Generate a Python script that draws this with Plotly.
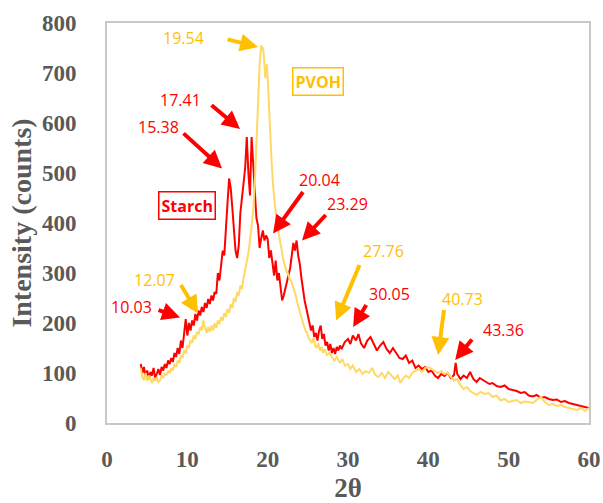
import plotly.graph_objects as go

# ---------------- data ----------------
starch_x = [4.2, 4.4, 4.6, 4.8, 5.0, 5.2, 5.4, 5.6, 5.8, 6.0, 6.2, 6.4, 6.6, 6.8, 7.0, 7.2, 7.4, 7.6, 7.8, 8.0,
            8.2, 8.4, 8.6, 8.8, 9.0, 9.2, 9.4, 9.6, 9.8, 10.0, 10.2, 10.4, 10.6, 10.8, 11.0, 11.2, 11.4, 11.6, 11.8, 12.0,
            12.2, 12.4, 12.6, 12.8, 13.0, 13.2, 13.4, 13.6, 13.8, 14.0, 14.2, 14.4, 14.6, 14.8, 15.0, 15.2, 15.4, 15.6, 15.8, 16.0,
            16.2, 16.4, 16.6, 16.8, 17.0, 17.2, 17.4, 17.6, 17.8, 18.0, 18.2, 18.4, 18.6, 18.8, 19.0, 19.2, 19.4, 19.6, 19.8, 20.0,
            20.2, 20.4, 20.6, 20.8, 21.0, 21.2, 21.4, 21.6, 21.8, 22.0, 22.2, 22.4, 22.6, 22.8, 23.0, 23.2, 23.4, 23.6, 23.8, 24.0,
            24.2, 24.4, 24.6, 24.8, 25.0, 25.2, 25.4, 25.6, 25.8, 26.0, 26.2, 26.4, 26.6, 26.8, 27.0, 27.2, 27.4, 27.6, 27.8, 28.0,
            28.2, 28.4, 28.6, 28.8, 29.0, 29.2, 29.6, 30.0, 30.3, 30.6, 31.0, 31.3, 31.6, 32.0, 32.4, 32.8, 33.2, 33.6, 34.0, 34.4,
            34.8, 35.2, 35.6, 36.0, 36.4, 36.8, 37.2, 37.6, 38.0, 38.4, 38.8, 39.2, 39.6, 40.0, 40.4, 40.8, 41.2, 41.6, 42.0, 42.4,
            42.8, 43.2, 43.4, 43.6, 44.0, 44.4, 44.8, 45.2, 45.6, 46.0, 46.4, 46.8, 47.2, 47.6, 48.0, 48.5, 49.0, 49.5, 50.0, 50.5,
            51.0, 51.5, 52.0, 52.5, 53.0, 53.5, 54.0, 54.5, 55.0, 55.5, 56.0, 56.5, 57.0, 57.5, 58.0, 58.5, 59.0, 59.5, 60.0]
starch_y = [118, 100, 112, 92, 105, 88, 102, 95, 110, 90, 98, 108, 96, 112, 105, 118, 110, 125, 118, 130,
            122, 140, 132, 150, 138, 165, 150, 178, 208, 175, 200, 185, 205, 195, 218, 205, 225, 215, 232, 222,
            240, 230, 248, 238, 255, 245, 262, 258, 300, 285, 320, 345, 335, 400, 440, 489, 470, 430, 385, 345,
            330, 355, 420, 445, 480, 510, 572, 500, 455, 572, 520, 480, 410, 395, 350, 370, 385, 365, 375, 368,
            330, 345, 315, 295, 325, 285, 300, 270, 245, 255, 270, 285, 295, 310, 335, 360, 345, 365, 335, 318,
            290, 265, 245, 230, 215, 200, 185, 195, 172, 180, 165, 185, 195, 168, 178, 155, 162, 145, 158, 140,
            150, 138, 152, 145, 155, 148, 162, 168, 158, 175, 165, 178, 160, 150, 165, 172, 158, 145, 155, 162,
            148, 140, 150, 140, 130, 128, 135, 120, 125, 110, 115, 108, 112, 102, 105, 95, 90, 98, 94, 100,
            90, 96, 120, 98, 88, 95, 90, 102, 88, 82, 90, 86, 82, 78, 80, 74, 72, 75, 68, 66,
            64, 60, 62, 55, 53, 56, 50, 52, 48, 46, 47, 42, 44, 40, 38, 36, 33, 32, 30]

pvoh_x = [4.2, 4.4, 4.6, 4.8, 5.0, 5.2, 5.4, 5.6, 5.8, 6.0, 6.2, 6.4, 6.6, 6.8, 7.0, 7.2, 7.4, 7.6, 7.8, 8.0,
          8.2, 8.4, 8.6, 8.8, 9.0, 9.2, 9.4, 9.6, 9.8, 10.0, 10.2, 10.4, 10.6, 10.8, 11.0, 11.2, 11.4, 11.6, 11.8, 12.0,
          12.2, 12.4, 12.6, 12.8, 13.0, 13.2, 13.4, 13.6, 13.8, 14.0, 14.2, 14.4, 14.6, 14.8, 15.0, 15.2, 15.4, 15.6, 15.8, 16.0,
          16.2, 16.4, 16.6, 16.8, 17.0, 17.2, 17.4, 17.6, 17.8, 18.0, 18.2, 18.4, 18.6, 18.8, 19.0, 19.2, 19.4, 19.5, 19.6, 19.7,
          19.8, 19.9, 20.0, 20.1, 20.3, 20.5, 20.7, 20.9, 21.1, 21.3, 21.5, 21.7, 21.9, 22.1, 22.3, 22.5, 22.7, 22.9, 23.1, 23.3,
          23.5, 23.7, 23.9, 24.1, 24.3, 24.5, 24.7, 24.9, 25.1, 25.3, 25.5, 25.7, 25.9, 26.1, 26.3, 26.5, 26.7, 26.9, 27.1, 27.4,
          27.7, 28.0, 28.3, 28.6, 29.0, 29.3, 29.6, 30.0, 30.3, 30.6, 31.0, 31.4, 31.8, 32.2, 32.6, 33.0, 33.4, 33.8, 34.2, 34.6,
          35.0, 35.4, 35.8, 36.2, 36.5, 36.8, 37.2, 37.6, 38.0, 38.4, 38.8, 39.2, 39.6, 40.0, 40.4, 40.8, 41.2, 41.6, 42.0, 42.4,
          42.8, 43.2, 43.6, 44.0, 44.4, 44.8, 45.2, 45.6, 46.0, 46.5, 47.0, 47.5, 48.0, 48.5, 49.0, 49.5, 50.0, 50.5, 51.0, 51.5,
          52.0, 52.5, 53.0, 53.5, 54.0, 54.5, 55.0, 55.5, 56.0, 56.5, 57.0, 57.5, 58.0, 58.5, 59.0, 59.5, 60.0]
pvoh_y = [110, 92, 86, 100, 84, 95, 88, 80, 90, 84, 92, 82, 85, 95, 90, 100, 95, 105, 100, 110,
          105, 118, 112, 125, 120, 135, 130, 145, 140, 155, 150, 165, 160, 175, 168, 182, 178, 192, 185, 205,
          190, 180, 192, 182, 195, 185, 200, 190, 205, 198, 212, 205, 220, 212, 228, 220, 238, 230, 250, 242,
          262, 255, 275, 268, 290, 305, 320, 340, 365, 390, 425, 480, 560, 650, 718, 755, 750, 740, 700, 690,
          705, 718, 690, 650, 580, 520, 470, 430, 405, 385, 370, 350, 330, 315, 305, 300, 290, 285, 275, 268,
          255, 240, 228, 215, 205, 195, 185, 180, 170, 165, 160, 170, 155, 150, 160, 145, 152, 140, 148, 136,
          140, 132, 125, 132, 120, 128, 115, 118, 108, 115, 102, 108, 98, 104, 100, 110, 96, 92, 100, 90,
          102, 95, 88, 95, 80, 88, 95, 90, 100, 105, 108, 102, 110, 112, 108, 105, 100, 104, 98, 100,
          92, 85, 88, 75, 68, 72, 64, 60, 56, 62, 58, 60, 52, 55, 45, 48, 42, 44, 46, 40,
          43, 42, 40, 46, 52, 42, 36, 38, 34, 36, 32, 30, 28, 26, 30, 24, 30]

x_ticks = [0, 10, 20, 30, 40, 50, 60]
y_ticks = [0, 100, 200, 300, 400, 500, 600, 700, 800]

# peak labels: text, text position, arrow tail, arrow head, series
peak_labels = ["19.54", "17.41", "15.38", "20.04", "23.29", "27.76", "30.05", "40.73", "43.36", "12.07", "10.03"]
label_pos = [(9.46, 770), (9.09, 646), (6.35, 592), (26.5, 487), (29.9, 439), (34.4, 345),
             (35.2, 259), (44.2, 249), (49.4, 186), (5.85, 287), (2.99, 233)]
arrow_tail = [(14.82, 768), (12.83, 638), (9.34, 582), (24.53, 465), (27.40, 419), (31.51, 319),
              (32.38, 239), (41.97, 229), (45.58, 170), (9.09, 279), (6.23, 227)]
arrow_head = [(18.80, 752), (16.56, 588), (14.32, 509), (20.67, 379), (24.28, 365), (28.52, 205),
              (30.64, 192), (41.22, 136), (43.34, 126), (11.33, 219), (9.09, 211)]
label_series = ["PVOH", "Starch", "Starch", "Starch", "Starch", "PVOH", "Starch", "PVOH", "Starch", "PVOH", "Starch"]

RED = "#FF0000"
GOLD = "#FFC000"
GOLD_LINE = "#FFD966"
col = {"Starch": RED, "PVOH": GOLD}

fig = go.Figure()
fig.add_trace(go.Scatter(x=starch_x, y=starch_y, mode="lines", name="Starch",
                         line=dict(color=RED, width=2)))
fig.add_trace(go.Scatter(x=pvoh_x, y=pvoh_y, mode="lines", name="PVOH",
                         line=dict(color=GOLD_LINE, width=2)))

ann = []
for t, p, tl, hd, s in zip(peak_labels, label_pos, arrow_tail, arrow_head, label_series):
    ann.append(dict(x=p[0], y=p[1], xref="x", yref="y", text=t, showarrow=False,
                    font=dict(family="Open Sans", size=16, color=col[s])))
    ann.append(dict(x=hd[0], y=hd[1], ax=tl[0], ay=tl[1], xref="x", yref="y", axref="x", ayref="y",
                    text="", showarrow=True, arrowhead=2, arrowsize=0.9, arrowwidth=4,
                    arrowcolor=col[s], standoff=0, startstandoff=0))

# series boxes
ann.append(dict(x=26.3, y=684, xref="x", yref="y", text="<b>PVOH</b>", showarrow=False,
                font=dict(family="Open Sans", size=16, color=GOLD), bordercolor=GOLD,
                borderwidth=1.5, borderpad=2, bgcolor="white"))
ann.append(dict(x=9.96, y=435, xref="x", yref="y", text="<b>Starch</b>", showarrow=False,
                font=dict(family="Open Sans", size=16, color=RED), bordercolor=RED,
                borderwidth=1.5, borderpad=2, bgcolor="white"))

axis_font = dict(family="Liberation Serif", size=23, color="#595959")
fig.update_layout(
    width=603, height=503,
    margin=dict(l=107, r=14, t=23, b=80),
    paper_bgcolor="white", plot_bgcolor="white",
    showlegend=False,
    annotations=ann,
    xaxis=dict(range=[0, 60], tickvals=x_ticks, ticktext=[f"<b>{v}</b>" for v in x_ticks],
               showgrid=False, zeroline=False, showline=True, linecolor="#C8C8C8", linewidth=2,
               mirror=True, ticks="", tickfont=axis_font, ticklabelstandoff=14, automargin=False,
               title=dict(text="<b>2θ</b>", font=dict(family="Liberation Serif", size=27, color="#595959"),
                          standoff=12)),
    yaxis=dict(range=[0, 800], tickvals=y_ticks, ticktext=[f"<b>{v}</b>" for v in y_ticks],
               showgrid=False, zeroline=False, showline=True, linecolor="#C8C8C8", linewidth=2,
               mirror=True, ticks="", tickfont=axis_font, ticklabelstandoff=24, automargin=False,
               title=dict(text="<b>Intensity (counts)</b>",
                          font=dict(family="Liberation Serif", size=28, color="#595959"), standoff=2)),
)

fig.write_html("out.html")
